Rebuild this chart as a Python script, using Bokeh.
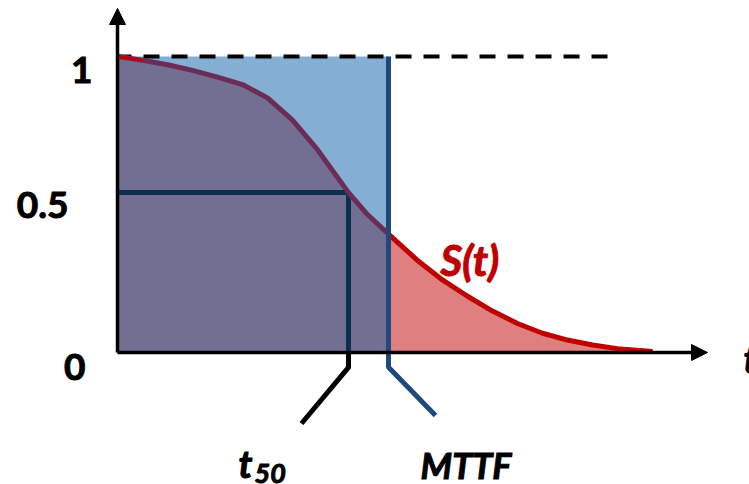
from bokeh.plotting import figure
from bokeh.models import Range1d, Arrow, NormalHead
from bokeh.core.properties import value
from bokeh.embed import file_html
from bokeh.resources import INLINE

# Survival function S(t), read as (t, S) pairs
t_vals = [0.0, 0.25, 0.5, 0.75, 1.0, 1.25, 1.5, 1.75, 2.0, 2.31, 2.5, 2.71,
          3.0, 3.25, 3.5, 3.75, 4.0, 4.25, 4.5, 4.75, 5.0, 5.35]
s_vals = [1.0, 0.987, 0.972, 0.953, 0.93, 0.905, 0.86, 0.785, 0.685, 0.54, 0.466, 0.40,
          0.311, 0.245, 0.19, 0.14, 0.098, 0.065, 0.042, 0.025, 0.013, 0.003]

# Characteristic times
t50 = 2.31
s50 = 0.54
mttf = 2.71

# Y tick labels
y_labels = ["1", "0.5", "0"]

BLUE_FILL = "#84AFD3"
PURPLE_FILL = "#736F92"
RED_FILL = "#E07F80"
CURVE_RED = "#C00000"
CURVE_DARK = "#6B2D57"
MTTF_BLUE = "#1F497D"
NAVY = "#0C2F50"
FONT = value("Lato")

p = figure(width=749, height=484, output_backend="svg", toolbar_location=None,
           x_range=Range1d(-1.17, 6.32), y_range=Range1d(-0.446, 1.189),
           x_axis_type=None, y_axis_type=None, min_border=0)
p.grid.visible = False
p.outline_line_color = None
p.background_fill_color = "white"

# Rectangle of height 1 and width MTTF (same area as under S(t))
p.quad(left=0, right=mttf, bottom=0, top=1, fill_color=BLUE_FILL, line_color=None)

# Area under S(t): up to MTTF and beyond
t_in = [t for t in t_vals if t <= mttf]
s_in = s_vals[:len(t_in)]
t_out = [t for t in t_vals if t >= mttf]
s_out = s_vals[len(t_vals) - len(t_out):]
p.varea(x=t_in, y1=[0] * len(t_in), y2=s_in, fill_color=PURPLE_FILL)
p.varea(x=t_out, y1=[0] * len(t_out), y2=s_out, fill_color=RED_FILL)

# Dashed level S = 1
p.line([0, 4.91], [1, 1], line_color="black", line_width=4, line_dash="16 12", line_dash_offset=2)

# Median lifetime guide lines
p.line([0, t50, t50], [s50, s50, 0], line_color=NAVY, line_width=5)
p.line([t50, t50, 1.84], [0, -0.05, -0.24], line_color="black", line_width=5)

# Curve
p.line(t_out, s_out, line_color=CURVE_RED, line_width=5, line_join="round")
p.line(t_in, s_in, line_color=CURVE_DARK, line_width=5, line_join="round")
p.line(t_vals[:2], s_vals[:2], line_color=CURVE_RED, line_width=3)

# MTTF line
p.line([mttf, mttf, 3.18], [1, -0.05, -0.213], line_color=MTTF_BLUE, line_width=5)

# Axes with arrow heads
p.add_layout(Arrow(end=NormalHead(size=16, fill_color="black", line_color="black", line_width=1),
                   x_start=0, y_start=0, x_end=5.90, y_end=0,
                   line_color="black", line_width=3.5))
p.add_layout(Arrow(end=NormalHead(size=16, fill_color="black", line_color="black", line_width=1),
                   x_start=0, y_start=0, x_end=0, y_end=1.162,
                   line_color="black", line_width=3.5))

# Heavier strokes for all labels
heavy = dict(text_font=FONT, text_baseline="middle", text_align="left")

# Y tick labels
p.text(x=[-0.25, -0.49, -0.32], y=[0.954, 0.497, -0.05], text=y_labels,
       text_font=FONT, text_font_style="bold", text_font_size="37px",
       text_align="right", text_baseline="middle", text_color="black",
       text_outline_color="black")

# Curve label
p.text(x=[3.23], y=[0.311], text=["S(t)"], text_font_style="bold italic",
       text_font_size="42px", text_color=CURVE_RED, text_outline_color=CURVE_RED, **heavy)

# Time axis label
p.text(x=[6.26], y=[-0.02], text=["t"], text_font_style="bold italic",
       text_font_size="38px", text_color="black", text_outline_color="black", **heavy)

# t50 label with subscript
p.text(x=[1.21], y=[-0.372], text=["t"], text_font_style="bold italic",
       text_font_size="38px", text_color="black", text_outline_color="black", **heavy)
p.text(x=[1.37], y=[-0.41], text=["50"], text_font_style="bold italic",
       text_font_size="27px", text_color="black", text_outline_color="black", **heavy)

# MTTF label
p.text(x=[3.03], y=[-0.38], text=["MTTF"], text_font_style="bold italic",
       text_font_size="36px", text_color="black", text_outline_color="black", **heavy)

open("out.html", "w").write(file_html(p, INLINE))
